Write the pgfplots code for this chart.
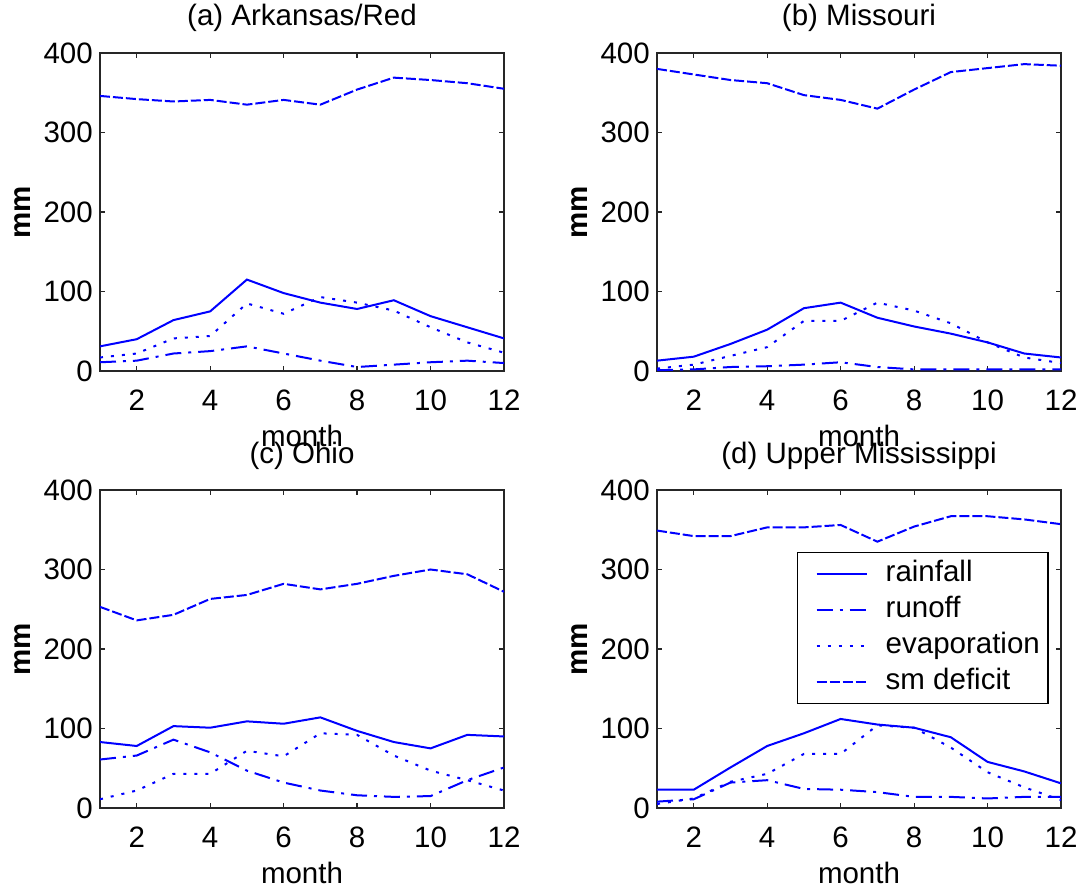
\documentclass[border=0pt]{standalone}
\usepackage{fontspec}
\setmainfont{Liberation Sans}
\usepackage{pgfplots}
\usepackage{pgfplotstable}
\pgfplotsset{compat=1.18}

% columns: month, rainfall, runoff, evaporation, sm deficit
\pgfplotstableread{
m  rain runoff evap sm
1  31  11  17  346
2  40  13  22  342
3  64  22  41  339
4  75  25  44  341
5  115 31  85  335
6  98  22  72  341
7  86  13  93  335
8  78  5   86  354
9  89  8   76  369
10 69  11  55  366
11 55  13  36  362
12 41  10  23  355
}\arkred
\pgfplotstableread{
m  rain runoff evap sm
1  13  1   3   380
2  18  2   8   373
3  34  5   19  366
4  52  6   30  362
5  79  8   63  347
6  86  11  63  341
7  67  5   86  330
8  56  2   76  354
9  47  2   60  376
10 36  2   36  381
11 22  2   17  386
12 17  2   10  384
}\missouri
\pgfplotstableread{
m  rain runoff evap sm
1  83  61  11  253
2  78  66  22  236
3  103 86  43  243
4  101 70  43  263
5  109 47  72  268
6  106 32  65  282
7  114 22  94  275
8  97  16  92  282
9  83  14  66  292
10 75  15  47  300
11 92  35  35  294
12 90  51  22  272
}\ohio
\pgfplotstableread{
m  rain runoff evap sm
1  23  8   5   349
2  23  11  12  342
3  51  32  33  342
4  78  35  43  353
5  94  24  68  353
6  112 23  68  356
7  105 20  104 335
8  101 14  101 354
9  89  14  76  367
10 58  12  45  367
11 46  14  26  363
12 31  14  10  357
}\uppermiss

\pgfplotsset{
  panel/.style={
    scale only axis, width=404pt, height=318pt,
    anchor=north west,
    xmin=1, xmax=12, ymin=0, ymax=400,
    xtick={2,4,...,12}, ytick={0,100,...,400},
    tick align=inside, major tick length=5pt,
    axis line style={line width=1.5pt, black!85},
    tick style={line width=1.2pt, black!85},
    font=\fontsize{29.5}{33}\selectfont,
    /pgf/number format/assume math mode=true,
    xticklabel style={anchor=base, yshift=-39pt, inner sep=0pt},
    yticklabel style={anchor=east, xshift=-7pt, inner sep=0pt},
    xlabel={month},
    xlabel style={at={(axis description cs:0.5,0)}, anchor=base, yshift=-75pt, inner sep=0pt},
    ylabel={\bfseries mm},
    ylabel style={at={(axis description cs:-0.173,0.5)}, anchor=base, rotate=0, inner sep=0pt},
    title style={at={(axis description cs:0.5,1)}, anchor=base, yshift=21pt, inner sep=0pt},
    legend image code/.code={\path (0pt,0pt); \draw[#1] (10pt,0pt) -- (60pt,0pt); \path (78pt,0pt);},
  },
  rainst/.style={blue, line width=2pt, solid},
  runst/.style={blue, line width=2pt, dash pattern=on 16pt off 7pt on 3pt off 7pt},
  evapst/.style={blue, line width=2pt, dash pattern=on 3pt off 8pt},
  smst/.style={blue, line width=2pt, dash pattern=on 10pt off 3pt},
}

\begin{document}
\begin{tikzpicture}
\path[use as bounding box] (0pt,0pt) rectangle (1083pt,-890pt);

\begin{axis}[panel, at={(100pt,-53pt)}, title={(a) Arkansas/Red}]
  \addplot[rainst] table[x=m,y=rain] {\arkred};
  \addplot[runst] table[x=m,y=runoff] {\arkred};
  \addplot[evapst] table[x=m,y=evap] {\arkred};
  \addplot[smst] table[x=m,y=sm] {\arkred};
\end{axis}

\begin{axis}[panel, at={(657pt,-53pt)}, title={(b) Missouri}]
  \addplot[rainst] table[x=m,y=rain] {\missouri};
  \addplot[runst] table[x=m,y=runoff] {\missouri};
  \addplot[evapst] table[x=m,y=evap] {\missouri};
  \addplot[smst] table[x=m,y=sm] {\missouri};
\end{axis}

\begin{axis}[panel, at={(100pt,-490pt)}, title={(c) Ohio}]
  \addplot[rainst] table[x=m,y=rain] {\ohio};
  \addplot[runst] table[x=m,y=runoff] {\ohio};
  \addplot[evapst] table[x=m,y=evap] {\ohio};
  \addplot[smst] table[x=m,y=sm] {\ohio};
\end{axis}

\begin{axis}[panel, at={(657pt,-490pt)}, title={(d) Upper Mississippi},
  legend style={at={(axis cs:11.66,322)}, anchor=north east,
    draw=black, line width=1.3pt, fill=white,
    inner xsep=8pt, inner ysep=8pt, row sep=9pt,
    nodes={inner sep=0pt, text height=21pt, text depth=6pt}},
  legend cell align=left]
  \addplot[rainst] table[x=m,y=rain] {\uppermiss};
  \addplot[runst] table[x=m,y=runoff] {\uppermiss};
  \addplot[evapst] table[x=m,y=evap] {\uppermiss};
  \addplot[smst] table[x=m,y=sm] {\uppermiss};
  \legend{rainfall, runoff, evaporation, sm deficit}
\end{axis}
\end{tikzpicture}
\end{document}
